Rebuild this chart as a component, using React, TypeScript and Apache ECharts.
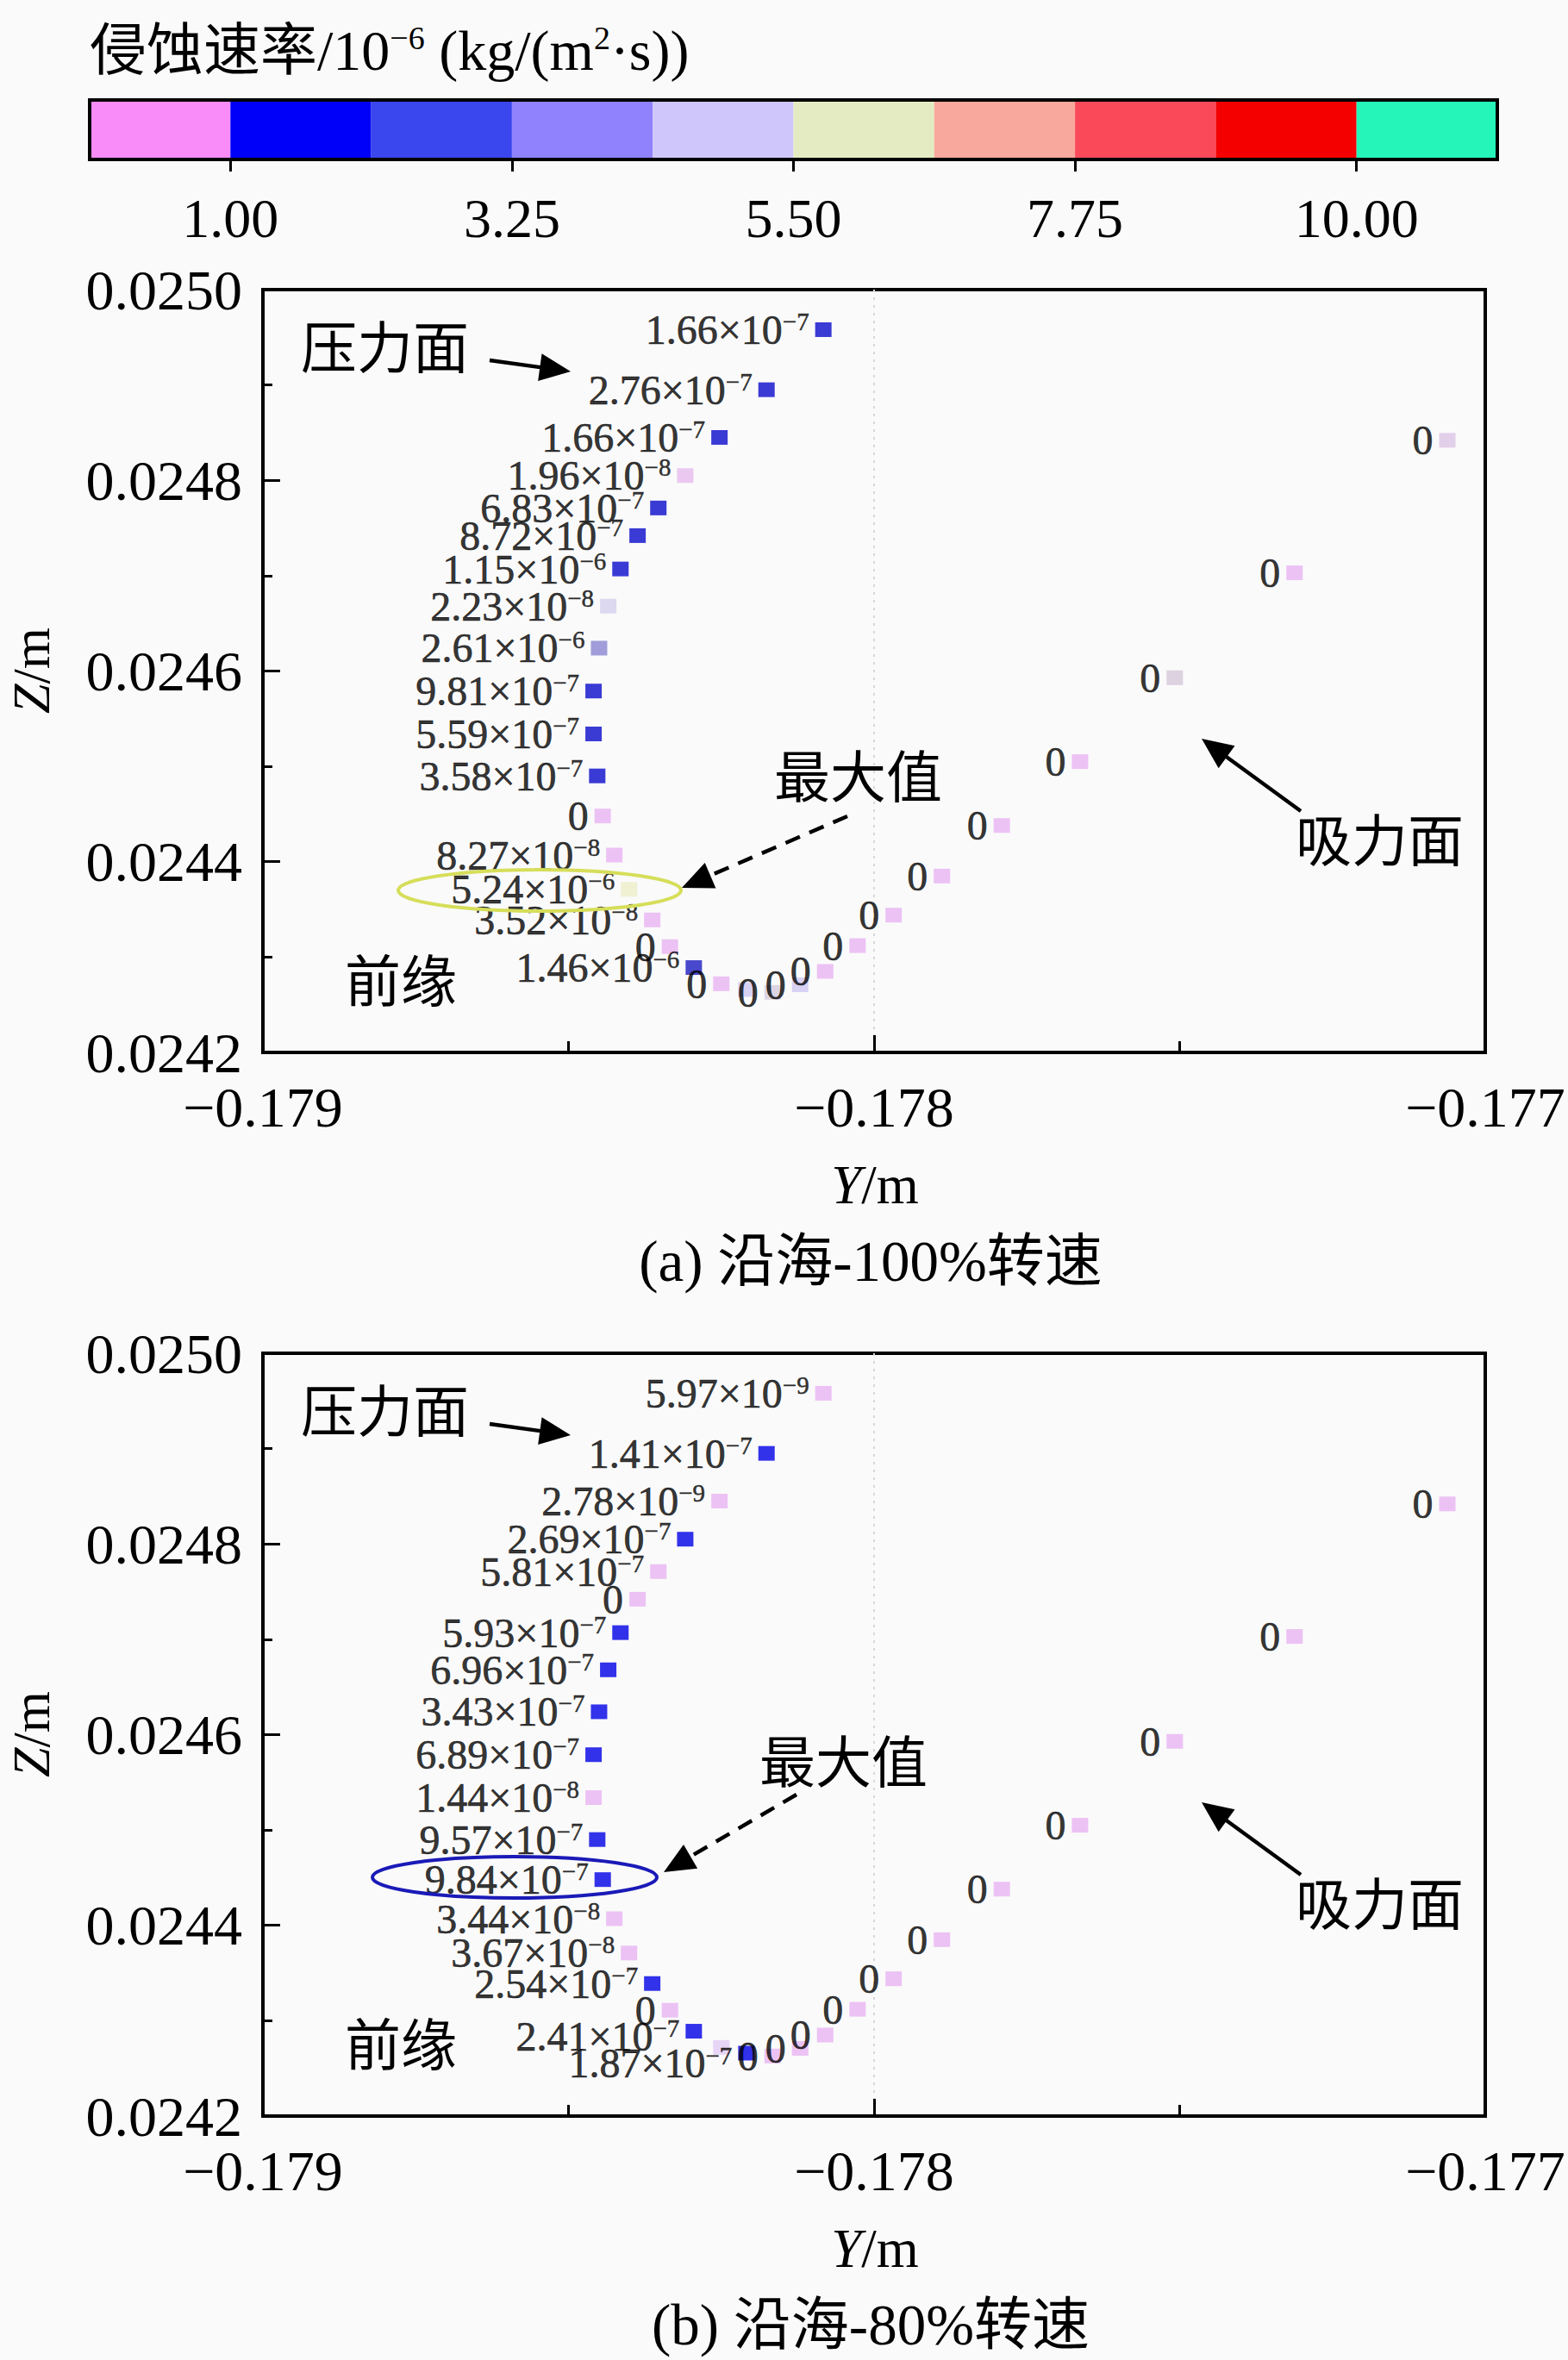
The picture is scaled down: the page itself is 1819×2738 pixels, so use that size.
import React, { useEffect, useRef } from 'react';
import * as echarts from 'echarts';

// Blade section coordinates (shared by both cases)
const Y_COORDS = [
  -0.178083, -0.178176, -0.178253, -0.178309, -0.178353, -0.178387, -0.178415, -0.178435,
  -0.17845, -0.178459, -0.178459, -0.178453, -0.178444, -0.178425, -0.178401, -0.178363,
  -0.178334, -0.178295, -0.17825, -0.178209, -0.178166, -0.178121, -0.17808, -0.178027,
  -0.177968, -0.177889, -0.177791, -0.177663, -0.177508, -0.177312, -0.177062,
];
const Z_COORDS = [
  0.024958, 0.024895, 0.024845, 0.024805, 0.024771, 0.024742, 0.024707, 0.024668,
  0.024624, 0.024579, 0.024534, 0.02449, 0.024448, 0.024407, 0.024371, 0.024339,
  0.024311, 0.024289, 0.024272, 0.024266, 0.024263, 0.024271, 0.024285, 0.024312,
  0.024344, 0.024385, 0.024438, 0.024505, 0.024593, 0.024703, 0.024842,
];

// Erosion rates, kg/(m^2·s)
const RATE_100 = [
  1.66e-7, 2.76e-7, 1.66e-7, 1.96e-8, 6.83e-7, 8.72e-7, 1.15e-6, 2.23e-8,
  2.61e-6, 9.81e-7, 5.59e-7, 3.58e-7, 0, 8.27e-8, 5.24e-6, 3.52e-8,
  0, 1.46e-6, 0, 0, 0, 0, 0, 0,
  0, 0, 0, 0, 0, 0, 0,
];
const RATE_80 = [
  5.97e-9, 1.41e-7, 2.78e-9, 2.69e-7, 5.81e-7, 0, 5.93e-7, 6.96e-7,
  3.43e-7, 6.89e-7, 1.44e-8, 9.57e-7, 9.84e-7, 3.44e-8, 3.67e-8, 2.54e-7,
  0, 2.41e-7, 0, 1.87e-7, 0, 0, 0, 0,
  0, 0, 0, 0, 0, 0, 0,
];
const HIDDEN_100 = [19];
const HIDDEN_80 = [18];

const B = '#0A0ACC';
const B2 = '#0000E6';
const P = '#E8B4F2';
const L = '#CEC8F2';
const COLOR_100 = [
  B, B, B, '#E6BCEE', B, B, B, '#D4D0EE',
  '#8A86D2', B, B, B, P, P, '#ECEFC8', P,
  P, '#1C1CC0', P, L, '#D6CCDE', L, P, P,
  P, P, P, P, '#D4C8DA', P, '#DCC4E6',
];
const COLOR_80 = [
  P, B2, P, B2, P, P, B2, B2,
  B2, B2, P, B2, B2, P, P, B2,
  P, B2, '#E2CCF4', B2, P, P, P, P,
  P, P, P, P, P, P, P,
];
const LABEL_SHIFT_80: Record<number, number> = { 17: 6, 19: 12 };

// Colour bar
const LEGEND_EDGES = [-0.125, 1, 2.125, 3.25, 4.375, 5.5, 6.625, 7.75, 8.875, 10, 11.125];
const LEGEND_COLORS = [
  '#F98CF9', '#0000FA', '#3A46EE', '#8F82FC', '#CFC6FC',
  '#E4EBC2', '#F8A89C', '#FA4A5A', '#F40000', '#26F5BA',
];
const LEGEND_TICKS = [1.0, 3.25, 5.5, 7.75, 10.0];

const SERIF = "'Liberation Serif', 'Noto Sans CJK SC', serif";
const CJK = "'Liberation Serif', 'Noto Sans CJK SC', sans-serif";

const fmtRate = (v: number) => {
  if (v === 0) return '0';
  const e = Math.floor(Math.log10(v) + 1e-9);
  const m = v / Math.pow(10, e);
  return `${m.toFixed(2)}×10{sup|−${-e}}`;
};

function arrow(x1: number, y1: number, x2: number, y2: number, dashed: boolean) {
  const dx = x2 - x1, dy = y2 - y1;
  const len = Math.hypot(dx, dy);
  const ux = dx / len, uy = dy / len;
  const hl = 36, hw = 16;
  const bx = x2 - ux * hl, by = y2 - uy * hl;
  const px = -uy, py = ux;
  return [
    {
      type: 'line', z: 100,
      shape: { x1, y1, x2: bx + ux * 6, y2: by + uy * 6 },
      style: { stroke: '#000', lineWidth: 4.5, lineDash: dashed ? [18, 12] : null },
    },
    {
      type: 'polygon', z: 100,
      shape: { points: [[x2, y2], [bx + px * hw, by + py * hw], [bx - px * hw, by - py * hw]] },
      style: { fill: '#000' },
    },
  ];
}

function txt(text: string, x: number, y: number, size: number, align = 'left', extra: any = {}) {
  return {
    type: 'text', z: 100, x, y, ...extra,
    style: {
      text, fontSize: size, fontFamily: CJK, fill: '#000',
      align, verticalAlign: 'middle', textAlign: align, textVerticalAlign: 'middle',
      rich: {
        sup: { fontSize: Math.round(size * 0.58), fontFamily: SERIF, verticalAlign: 'top', fill: '#000' },
        i: { fontSize: size, fontFamily: SERIF, fontStyle: 'italic', fill: '#000' },
      },
    },
  };
}

const GRID_LEFT = 305;
const GRID_W = 1418;
const GRID_H = 885;
const TOPS = [336, 1570];

function scatterData(rates: number[], colors: string[], hidden: number[], shift: Record<number, number>) {
  return Y_COORDS.map((y, i) => ({
    value: [y, Z_COORDS[i]],
    rate: rates[i],
    itemStyle: { color: colors[i] },
    label: {
      show: hidden.indexOf(i) < 0,
      offset: [0, shift[i] || 0],
    },
  }));
}

function mainAxes(idx: number) {
  const xAxis = {
    type: 'value', gridIndex: idx, min: -0.179, max: -0.177, interval: 0.001,
    axisLine: { show: false },
    axisTick: { show: true, inside: true, length: 20, lineStyle: { color: '#000', width: 3 } },
    minorTick: { show: true, splitNumber: 2, length: 13, lineStyle: { color: '#000', width: 3 } },
    splitLine: { show: true, showMinLine: false, showMaxLine: false, lineStyle: { color: '#d8d8d8', width: 2, type: [3, 6] } },
    axisLabel: {
      fontSize: 66, fontFamily: SERIF, color: '#000', margin: 30,
      formatter: (v: number) => (v < 0 ? '−' : '') + Math.abs(v).toFixed(3),
    },
  };
  const yAxis = {
    type: 'value', gridIndex: idx, min: 0.0242, max: 0.025, interval: 0.0002,
    axisLine: { show: false },
    axisTick: { show: true, inside: true, length: 20, lineStyle: { color: '#000', width: 3 } },
    minorTick: { show: true, splitNumber: 2, length: 11, lineStyle: { color: '#000', width: 3 } },
    splitLine: { show: false },
    axisLabel: {
      fontSize: 66, fontFamily: SERIF, color: '#000', margin: 24,
      formatter: (v: number) => v.toFixed(4),
    },
  };
  return { xAxis, yAxis };
}

function scatterSeries(idx: number, data: any[]) {
  return {
    type: 'scatter', xAxisIndex: idx, yAxisIndex: idx,
    symbol: 'rect', symbolSize: [19, 17],
    data,
    label: {
      show: true, position: 'left', distance: 7,
      fontSize: 48, lineHeight: 48, fontFamily: SERIF, color: '#000',
      textBorderColor: '#000', textBorderWidth: 0.6,
      formatter: (p: any) => fmtRate(p.data.rate),
      rich: {
        sup: {
          fontSize: 29, lineHeight: 48, fontFamily: SERIF, color: '#000', verticalAlign: 'top',
          textBorderColor: '#000', textBorderWidth: 0.5,
        },
      },
    },
    z: 5,
  };
}

export default function App() {
  const ref = useRef<HTMLDivElement>(null);
  useEffect(() => {
    document.body.style.margin = '0';
    if (!ref.current) return;
    const chart = echarts.init(ref.current, undefined, { renderer: 'svg' });
    const a0 = mainAxes(0);
    const a1 = mainAxes(1);
    const off = TOPS[1] - TOPS[0];

    const graphics: any[] = [
      txt('侵蚀速率/10{sup|−6} (kg/(m{sup|2}·s))', 104, 58, 66),
      // colour bar frame
      {
        type: 'rect', z: 100, shape: { x: 104, y: 116, width: 1633, height: 69 },
        style: { fill: 'none', stroke: '#000', lineWidth: 4 },
      },
      // chart (a)
      txt('压力面', 349, 405, 65),
      ...arrow(568, 418, 662, 431, false),
      txt('最大值', 898, 903, 65),
      ...arrow(983, 947, 791, 1030, true),
      { type: 'ellipse', z: 90, shape: { cx: 626, cy: 1033, rx: 164, ry: 24 }, style: { fill: 'none', stroke: '#D6DE5A', lineWidth: 4 } },
      txt('前缘', 400, 1140, 65),
      txt('吸力面', 1503, 977, 65),
      ...arrow(1509, 941, 1394, 857, false),
      txt('{i|Z}/m', 36, 778, 62, 'center', { rotation: Math.PI / 2 }),
      txt('{i|Y}/m', 1015, 1375, 63, 'center'),
      txt('(a) 沿海-100%转速', 1010, 1463, 67, 'center'),
      // chart (b)
      txt('压力面', 349, 405 + off, 65),
      ...arrow(568, 418 + off, 662, 431 + off, false),
      txt('最大值', 881, 2046, 65),
      ...arrow(924, 2082, 770, 2172, true),
      { type: 'ellipse', z: 90, shape: { cx: 597, cy: 2178, rx: 165, ry: 24 }, style: { fill: 'none', stroke: '#1A1AB8', lineWidth: 4 } },
      txt('前缘', 400, 1140 + off, 65),
      txt('吸力面', 1503, 977 + off, 65),
      ...arrow(1509, 941 + off, 1394, 857 + off, false),
      txt('{i|Z}/m', 36, 778 + off, 62, 'center', { rotation: Math.PI / 2 }),
      txt('{i|Y}/m', 1015, 1375 + off, 63, 'center'),
      txt('(b) 沿海-80%转速', 1010, 1463 + off, 67, 'center'),
    ];

    const option: any = {
      animation: false,
      backgroundColor: '#fafafa',
      grid: [
        { left: GRID_LEFT, top: TOPS[0], width: GRID_W, height: GRID_H, show: true, borderColor: '#000', borderWidth: 4, backgroundColor: 'transparent' },
        { left: GRID_LEFT, top: TOPS[1], width: GRID_W, height: GRID_H, show: true, borderColor: '#000', borderWidth: 4, backgroundColor: 'transparent' },
        { left: 104, top: 116, width: 1633, height: 69 },
      ],
      xAxis: [
        a0.xAxis,
        a1.xAxis,
        {
          type: 'value', gridIndex: 2, min: LEGEND_EDGES[0], max: LEGEND_EDGES[LEGEND_EDGES.length - 1],
          axisLine: { show: false },
          splitLine: { show: false },
          axisTick: { show: true, inside: false, length: 14, customValues: LEGEND_TICKS, lineStyle: { color: '#000', width: 3 } },
          axisLabel: {
            show: true, customValues: LEGEND_TICKS, fontSize: 64, fontFamily: SERIF, color: '#000', margin: 36,
            formatter: (v: number) => v.toFixed(2),
          },
        },
      ],
      yAxis: [
        a0.yAxis,
        a1.yAxis,
        { type: 'value', gridIndex: 2, min: 0, max: 1, show: false },
      ],
      series: [
        scatterSeries(0, scatterData(RATE_100, COLOR_100, HIDDEN_100, {})),
        scatterSeries(1, scatterData(RATE_80, COLOR_80, HIDDEN_80, LABEL_SHIFT_80)),
        {
          type: 'custom', xAxisIndex: 2, yAxisIndex: 2,
          data: LEGEND_COLORS.map((c, i) => [LEGEND_EDGES[i], LEGEND_EDGES[i + 1], i]),
          renderItem: (params: any, api: any) => {
            const s = api.coord([api.value(0), 1]);
            const e = api.coord([api.value(1), 0]);
            return {
              type: 'rect',
              shape: { x: s[0], y: s[1], width: e[0] - s[0], height: e[1] - s[1] },
              style: { fill: LEGEND_COLORS[api.value(2)] },
            };
          },
        },
      ],
      graphic: graphics,
    };
    chart.setOption(option);
    return () => chart.dispose();
  }, []);
  return <div ref={ref} style={{ width: 1819, height: 2738 }} />;
}
